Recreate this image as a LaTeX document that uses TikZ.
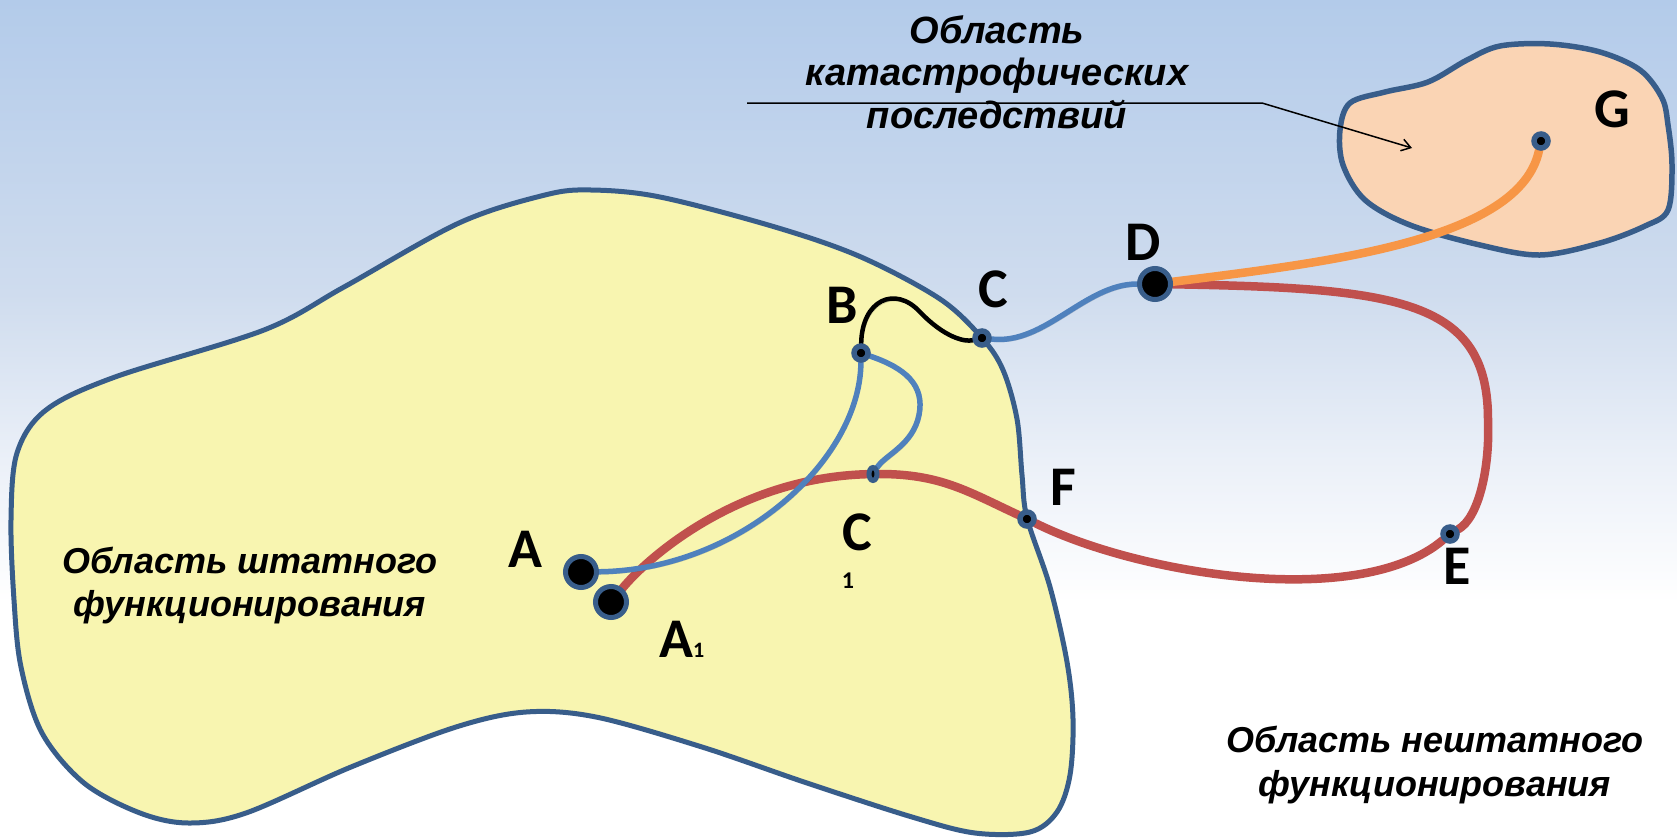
\documentclass[tikz,border=0pt]{standalone}
\usepackage{fontspec}
\setmainfont{Liberation Sans}
\newfontfamily\lblfont{Carlito}
\usetikzlibrary{shapes.geometric,arrows.meta}
\definecolor{bgtop}{HTML}{B3CBEA}
\definecolor{bgmid}{HTML}{CFDCEE}
\definecolor{bgpale}{HTML}{EBF0F8}
\definecolor{outlineblue}{HTML}{385D8A}
\definecolor{yellowfill}{HTML}{F8F5B0}
\definecolor{peachfill}{HTML}{FAD4B4}
\definecolor{lineblue}{HTML}{4F81BD}
\definecolor{linered}{HTML}{C0504D}
\definecolor{lineorange}{HTML}{F79646}
\pgfdeclarelayer{bg}
\pgfdeclarelayer{lines}
\pgfsetlayers{bg,lines,main}
\pgfdeclareverticalshading{bgshade}{100bp}{color(0bp)=(white); color(39bp)=(white); color(47.5bp)=(bgpale); color(57.5bp)=(bgmid); color(75bp)=(bgtop); color(100bp)=(bgtop)}
\tikzset{
  outline/.style={draw=outlineblue, line width=5pt},
  bigdot/.style={circle, fill=black, draw=outlineblue, line width=5pt, minimum size=31pt, inner sep=0pt},
  smalldot/.style={circle, fill=black, draw=outlineblue, line width=5.5pt, minimum size=14pt, inner sep=0pt},
  ovaldot/.style={ellipse, fill=black, draw=outlineblue, line width=5pt, minimum width=8pt, minimum height=13pt, inner sep=0pt},
  lbl/.style={font=\lblfont\bfseries\fontsize{56}{56}\selectfont, inner sep=0pt, anchor=base},
  areatext/.style={font=\bfseries\itshape\fontsize{36}{43}\selectfont, align=center, inner sep=0pt, anchor=north},
  shadowed/.style={preaction={draw=black, draw opacity=0.18, transform canvas={xshift=1.5pt,yshift=-2.5pt}}},
  blueline/.style={shadowed, draw=lineblue, line width=5.5pt, line cap=round},
  redline/.style={shadowed, draw=linered, line width=8.5pt, line cap=round},
  orangeline/.style={shadowed, draw=lineorange, line width=8.5pt, line cap=round},
  blackline/.style={shadowed, draw=black, line width=4.5pt, line cap=round},
  callout/.style={draw=black, line width=1.5pt, -{Straight Barb[length=9pt,width=12pt]}}
}
\begin{document}
\begin{tikzpicture}[x=1pt,y=-1pt]
\useasboundingbox (0,0) rectangle (1677,838);

% dots
\node[bigdot] (A) at (581,572) {};
\node[bigdot] (A1) at (611,602) {};
\node[smalldot] (B) at (861,353) {};
\node[smalldot] (C) at (982,338) {};
\node[bigdot] (D) at (1155,284) {};
\node[ovaldot] (C1) at (873,474) {};
\node[smalldot] (F) at (1027,519) {};
\node[smalldot] (E) at (1450,534) {};
\node[smalldot] (G) at (1541,141) {};

\begin{pgfonlayer}{bg}
\shade[shading=bgshade] (0,0) rectangle (1677,838);
\path[outline, fill=yellowfill] plot[smooth cycle, tension=0.55] coordinates {
 (545,195) (591,190) (660,197) (775,227) (861,257) (940,299) (982,338) (1003,370)
 (1017,419) (1022,475) (1027,518) (1050,587) (1067,662) (1073,719) (1070,775)
 (1057,812) (1030,832) (975,833) (912,817) (807,783) (702,747) (596,717) (526,712)
 (456,727) (351,767) (246,813) (189,823) (140,813) (84,783) (42,733) (21,667) (14,600)
 (11,520) (17,453) (46,410) (115,377) (264,330) (344,287) (459,223)};
\path[outline, line width=5.5pt, fill=peachfill] plot[smooth cycle, tension=0.55] coordinates {
 (1340,130) (1350,103) (1385,92) (1428,82) (1467,60) (1500,46) (1550,44) (1600,52)
 (1640,70) (1662,98) (1668,125) (1672,165) (1668,210) (1645,226) (1600,243)
 (1540,255) (1480,245) (1410,225) (1365,200) (1343,165)};
\end{pgfonlayer}

\begin{pgfonlayer}{lines}
\draw[redline] (A1) .. controls (650,555) and (740,478) .. (C1)
  .. controls (940,474) and (967,491) .. (F)
  .. controls (1140,575) and (1360,610) .. (E)
  .. controls (1478,518) and (1490,470) .. (1488,420)
  .. controls (1488,300) and (1400,288) .. (D);
\draw[orangeline] (D) .. controls (1330,262) and (1520,240) .. (G);
\draw[blueline] (A) .. controls (740,570) and (860,460) .. (B);
\draw[blueline] (B) .. controls (905,368) and (925,385) .. (919,415)
  .. controls (913,445) and (885,455) .. (C1);
\draw[blueline] (C) .. controls (1045,345) and (1085,284) .. (D);
\draw[blackline] (B) .. controls (862,300) and (895,285) .. (920,312)
  .. controls (945,338) and (965,342) .. (C);
\end{pgfonlayer}

% labels
\node[lbl] (labA) at (525,567) {A};
\node[lbl, anchor=base west] (labA1) at (659,657) {A{\fontsize{22}{22}\selectfont 1}};
\node[lbl] (labB) at (842,323) {B};
\node[lbl] (labC) at (993,307) {C};
\node[lbl] (labD) at (1143,260) {D};
\node[lbl] (labF) at (1063,505) {F};
\node[lbl] (labE) at (1457,584) {E};
\node[lbl] (labG) at (1612,127) {G};
\node[lbl] (labC1) at (857,550) {C};
\node[lbl, font=\lblfont\bfseries\fontsize{24}{24}\selectfont] (labC1s) at (848,588) {1};

% area texts
\node[areatext, font=\bfseries\itshape\fontsize{38}{42.5}\selectfont] (catText) at (997,15) {Область\\катастрофических\\последствий};
\node[areatext] (normText) at (250,547) {Область штатного\\функционирования};
\node[areatext, font=\bfseries\itshape\fontsize{36}{44}\selectfont] (abnText) at (1435,726) {Область нештатного\\функционирования};

% callout
\coordinate (calloutStart) at (747,103);
\coordinate (calloutBend) at (1262,103);
\coordinate (calloutTip) at (1412,148);
\draw[callout] (calloutStart) -- (calloutBend) -- (calloutTip);
\end{tikzpicture}
\end{document}
